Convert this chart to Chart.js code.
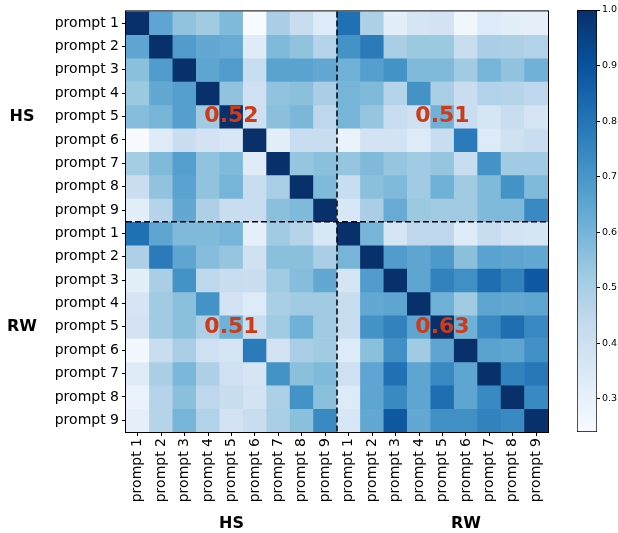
<!DOCTYPE html>
<html>
<head>
<meta charset="utf-8">
<script src="https://cdn.jsdelivr.net/npm/chart.js@4.4.1/dist/chart.umd.min.js"></script>
<style>
  body { margin: 0; background: #fff; }
  #wrap { position: relative; width: 618px; height: 533px; }
  canvas { position: absolute; top: 0; }
</style>
</head>
<body>
<div id="wrap">
  <canvas id="heat" width="618" height="533" style="left:0"></canvas>
  <canvas id="cbar" width="48" height="533" style="left:570px"></canvas>
</div>
<script>
const prompts = ['prompt 1', 'prompt 2', 'prompt 3', 'prompt 4', 'prompt 5', 'prompt 6', 'prompt 7', 'prompt 8', 'prompt 9'];
const groups = ['HS', 'RW'];
const blockMeans = [[0.52, 0.51], [0.51, 0.63]];
const colorTicks = [0.3, 0.4, 0.5, 0.6, 0.7, 0.8, 0.9, 1.0];
const vmin = 0.24, vmax = 1.0;

// similarity blocks, rows = prompts of first group, cols = prompts of second group
const hsHs = [
  [1.00, 0.65, 0.55, 0.52, 0.58, 0.24, 0.50, 0.42, 0.34],
  [0.65, 1.00, 0.68, 0.64, 0.63, 0.33, 0.58, 0.55, 0.47],
  [0.56, 0.68, 1.00, 0.65, 0.68, 0.42, 0.66, 0.66, 0.64],
  [0.53, 0.64, 0.67, 1.00, 0.55, 0.40, 0.55, 0.56, 0.50],
  [0.57, 0.60, 0.67, 0.52, 1.00, 0.40, 0.56, 0.59, 0.45],
  [0.24, 0.33, 0.41, 0.38, 0.36, 1.00, 0.32, 0.42, 0.42],
  [0.51, 0.58, 0.67, 0.55, 0.58, 0.33, 1.00, 0.54, 0.56],
  [0.41, 0.55, 0.66, 0.55, 0.60, 0.42, 0.50, 1.00, 0.58],
  [0.32, 0.47, 0.64, 0.49, 0.42, 0.42, 0.56, 0.58, 1.00]
];
const hsRw = [
  [0.81, 0.49, 0.32, 0.37, 0.38, 0.27, 0.34, 0.32, 0.31],
  [0.71, 0.78, 0.50, 0.53, 0.53, 0.42, 0.50, 0.49, 0.48],
  [0.61, 0.67, 0.71, 0.58, 0.58, 0.52, 0.60, 0.55, 0.61],
  [0.60, 0.58, 0.47, 0.71, 0.50, 0.41, 0.48, 0.47, 0.45],
  [0.60, 0.54, 0.42, 0.40, 0.61, 0.42, 0.37, 0.42, 0.37],
  [0.29, 0.38, 0.38, 0.34, 0.42, 0.78, 0.34, 0.39, 0.42],
  [0.54, 0.58, 0.54, 0.52, 0.54, 0.42, 0.71, 0.52, 0.52],
  [0.42, 0.56, 0.58, 0.52, 0.61, 0.52, 0.58, 0.71, 0.58],
  [0.36, 0.50, 0.63, 0.53, 0.52, 0.52, 0.58, 0.58, 0.74]
];
const rwHs = [
  [0.81, 0.65, 0.58, 0.58, 0.60, 0.31, 0.52, 0.47, 0.36],
  [0.49, 0.78, 0.65, 0.57, 0.54, 0.39, 0.56, 0.56, 0.50],
  [0.32, 0.50, 0.71, 0.45, 0.42, 0.41, 0.52, 0.57, 0.64],
  [0.37, 0.52, 0.56, 0.71, 0.38, 0.34, 0.50, 0.52, 0.52],
  [0.38, 0.52, 0.56, 0.49, 0.61, 0.42, 0.52, 0.61, 0.52],
  [0.26, 0.42, 0.50, 0.40, 0.37, 0.78, 0.38, 0.50, 0.52],
  [0.33, 0.50, 0.59, 0.49, 0.40, 0.37, 0.71, 0.56, 0.58],
  [0.29, 0.47, 0.56, 0.45, 0.42, 0.38, 0.49, 0.71, 0.56],
  [0.31, 0.47, 0.60, 0.48, 0.38, 0.42, 0.50, 0.56, 0.74]
];
const rwRw = [
  [1.00, 0.60, 0.37, 0.45, 0.45, 0.34, 0.42, 0.38, 0.37],
  [0.60, 1.00, 0.68, 0.65, 0.69, 0.56, 0.66, 0.65, 0.64],
  [0.37, 0.68, 1.00, 0.65, 0.76, 0.72, 0.82, 0.76, 0.88],
  [0.42, 0.64, 0.65, 1.00, 0.61, 0.52, 0.65, 0.64, 0.65],
  [0.42, 0.71, 0.76, 0.65, 1.00, 0.61, 0.74, 0.82, 0.74],
  [0.34, 0.56, 0.72, 0.52, 0.65, 1.00, 0.66, 0.65, 0.72],
  [0.40, 0.65, 0.81, 0.65, 0.74, 0.65, 1.00, 0.76, 0.79],
  [0.34, 0.65, 0.74, 0.65, 0.82, 0.65, 0.74, 1.00, 0.74],
  [0.36, 0.64, 0.88, 0.64, 0.72, 0.72, 0.76, 0.74, 1.00]
];

const labels = [...prompts, ...prompts];
const matrix = [
  ...hsHs.map((r, i) => [...r, ...hsRw[i]]),
  ...rwHs.map((r, i) => [...r, ...rwRw[i]])
];

// matplotlib Blues
const blues = ['#f7fbff', '#deebf7', '#c6dbef', '#9ecae1', '#6baed6', '#4292c6', '#2171b5', '#08519c', '#08306b'];
function hex(c) { return [1, 3, 5].map(k => parseInt(c.slice(k, k + 2), 16)); }
function blue(v) {
  let t = Math.min(1, Math.max(0, (v - vmin) / (vmax - vmin))) * (blues.length - 1);
  const i = Math.min(blues.length - 2, Math.floor(t)), f = t - i;
  const a = hex(blues[i]), b = hex(blues[i + 1]);
  return 'rgb(' + a.map((x, k) => Math.round(x + (b[k] - x) * f)).join(',') + ')';
}

const FONT = 'DejaVu Sans';

const overlay = {
  id: 'overlay',
  afterDatasetsDraw(chart) {
    const { ctx, chartArea: a, scales: { x, y } } = chart;
    ctx.save();
    // block separators
    const xm = (x.getPixelForValue(8) + x.getPixelForValue(9)) / 2;
    const ym = y.getPixelForValue(9);
    ctx.strokeStyle = '#000';
    ctx.lineWidth = 1.5;
    ctx.setLineDash([6, 3]);
    ctx.beginPath();
    ctx.moveTo(xm, a.top); ctx.lineTo(xm, a.bottom);
    ctx.moveTo(a.left, ym); ctx.lineTo(a.right, ym);
    ctx.stroke();
    ctx.setLineDash([]);
    ctx.lineWidth = 1;
    ctx.strokeRect(a.left - 0.5, a.top - 0.5, a.right - a.left + 1, a.bottom - a.top + 1);

    // block means
    ctx.fillStyle = '#d03a16';
    ctx.font = 'bold 22px ' + FONT;
    ctx.textAlign = 'center';
    ctx.textBaseline = 'middle';
    blockMeans.forEach((row, gi) => row.forEach((m, gj) => {
      ctx.fillText(m.toFixed(2), x.getPixelForValue(gj * 9 + 4), y.getPixelForValue(gi * 9 + 4.5));
    }));

    // group labels
    ctx.fillStyle = '#000';
    ctx.font = 'bold 16px ' + FONT;
    groups.forEach((g, gi) => {
      ctx.fillText(g, 22, y.getPixelForValue(gi * 9 + 4.5));
    });
    ctx.fillText(groups[0], x.getPixelForValue(4), 524);
    ctx.fillText(groups[1], x.getPixelForValue(14), 524);
    ctx.restore();
  }
};

new Chart(document.getElementById('heat'), {
  type: 'bar',
  data: {
    labels: labels,
    datasets: matrix.map((row, i) => ({
      data: row.map(() => [i, i + 1]),
      backgroundColor: row.map(blue),
      borderWidth: 0,
      grouped: false,
      barPercentage: 1,
      categoryPercentage: 1
    }))
  },
  options: {
    responsive: false,
    animation: false,
    devicePixelRatio: 1,
    layout: { padding: { top: 10, right: 70, left: 0, bottom: 0 } },
    plugins: { legend: { display: false }, tooltip: { enabled: false } },
    scales: {
      x: {
        afterFit: s => { s.height = 101; },
        border: { display: false },
        grid: { drawOnChartArea: false, tickLength: 4, color: '#000', offset: false },
        ticks: {
          autoSkip: false, minRotation: 90, maxRotation: 90, padding: 2,
          color: '#000', font: { family: FONT, size: 14 }
        }
      },
      y: {
        min: 0, max: 18, reverse: true,
        afterFit: s => { s.width = 126; },
        afterBuildTicks: s => { s.ticks = labels.map((_, i) => ({ value: i + 0.5 })); },
        border: { display: false },
        grid: { drawOnChartArea: false, tickLength: 4, color: '#000' },
        ticks: {
          autoSkip: false, padding: 3, color: '#000',
          font: { family: FONT, size: 14 },
          callback: (v, i) => labels[i]
        }
      }
    }
  },
  plugins: [overlay]
});

// colorbar
new Chart(document.getElementById('cbar'), {
  type: 'bar',
  data: {
    labels: [''],
    datasets: [{
      data: [[vmin, vmax]],
      backgroundColor: c => {
        const a = c.chart.chartArea;
        if (!a) return blues[4];
        const g = c.chart.ctx.createLinearGradient(0, a.bottom, 0, a.top);
        blues.forEach((b, k) => g.addColorStop(k / (blues.length - 1), b));
        return g;
      },
      borderColor: '#000',
      borderWidth: 1,
      borderSkipped: false,
      barPercentage: 1,
      categoryPercentage: 1
    }]
  },
  options: {
    responsive: false,
    animation: false,
    devicePixelRatio: 1,
    layout: { padding: { top: 10, left: 7, right: 0, bottom: 101 } },
    plugins: { legend: { display: false }, tooltip: { enabled: false } },
    scales: {
      x: { display: false },
      y: {
        position: 'right',
        min: vmin, max: vmax,
        afterFit: s => { s.width = 21; },
        afterBuildTicks: s => { s.ticks = colorTicks.map(v => ({ value: v })); },
        border: { display: false },
        grid: { drawOnChartArea: false, tickLength: 3, color: '#000' },
        ticks: {
          padding: 2, color: '#000',
          font: { family: FONT, size: 9.5 },
          callback: v => v.toFixed(1)
        }
      }
    }
  }
});
</script>
</body>
</html>
